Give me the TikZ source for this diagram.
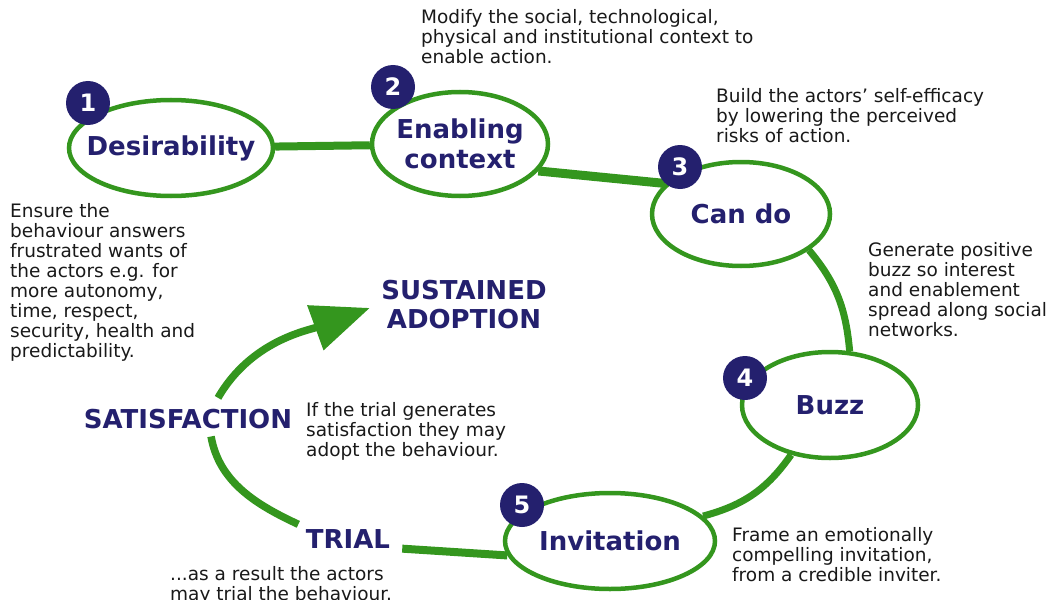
\documentclass[tikz,border=0pt]{standalone}
\usepackage{fontspec}
\setmainfont{DejaVu Sans}
\usetikzlibrary{shapes.geometric,arrows.meta}
\definecolor{leafgreen}{RGB}{52,150,30}
\definecolor{inkblue}{RGB}{36,32,110}
\definecolor{notegray}{RGB}{25,25,25}
\tikzset{%
    stage/.style={ellipse, draw=leafgreen, line width=4.5pt, fill=white,
    	inner sep=0pt},
    stagetext/.style={text=inkblue, align=center,
    	font=\fontsize{26}{30}\selectfont\bfseries},
    num/.style={circle, fill=inkblue, minimum size=44pt, inner sep=0pt,
    	text=white, font=\fontsize{24}{24}\selectfont\bfseries},
    link/.style={draw=leafgreen, line width=8pt},
    cycleline/.style={draw=leafgreen, line width=7.5pt},
    note/.style={anchor=north west, inner sep=0pt, align=left,
    	text=notegray, font=\fontsize{18.5}{20}\selectfont},
    phase/.style={text=inkblue, inner sep=2pt, align=center,
    	font=\fontsize{26}{29}\selectfont\bfseries}
}
\begin{document}
\begin{tikzpicture}[x=1pt, y=1pt]
  \useasboundingbox (0,0) rectangle (1056,-599);

  \node (desir) [stage, minimum width=204pt, minimum height=96pt,
    label={[stagetext]center:Desirability}] at (171,-148) {};
  \node (enab) [stage, minimum width=176pt, minimum height=104pt,
    label={[stagetext]center:{Enabling\\context}}] at (460,-144) {};
  \node (cando) [stage, minimum width=178pt, minimum height=104pt,
    label={[stagetext]center:Can do}] at (741,-214) {};
  \node (buzz) [stage, minimum width=176pt, minimum height=106pt,
    label={[stagetext]center:Buzz}] at (830,-405) {};
  \node (invit) [stage, minimum width=210pt, minimum height=96pt,
    label={[stagetext]center:Invitation}] at (610,-541) {};

  \node (trial) [phase, anchor=base] at (348,-548) {TRIAL};
  \node (satis) [phase, anchor=base] at (188,-428) {SATISFACTION};
  \node (adopt) [phase, anchor=north] at (464,-278) {SUSTAINED\\ADOPTION};

  \draw[link] (desir) -- (enab);
  \draw[link, line width=9pt] (enab.-19) -- (cando.158);
  \draw[link, line width=7pt] (cando.-28) to[out=-50, in=95] (buzz.70);
  \draw[link, line width=7pt] (buzz.-128) to[out=-125, in=15] (invit.15);
  \draw[link, shorten <=10pt] (trial.base east) -- (invit.188);

  \draw[cycleline, shorten <=6pt, shorten >=6pt] (trial.north west)
    to[out=155, in=-80] ([xshift=22pt]satis.south);
  \draw[cycleline, shorten <=10pt, shorten >=10pt,
    -{Triangle[length=58pt, width=46pt]}] ([xshift=25pt]satis.north)
    to[out=60, in=200] (adopt.west);

  \node (n1) [num] at (88,-103) {1};
  \node (n2) [num] at (393,-87) {2};
  \node (n3) [num] at (680,-167) {3};
  \node (n4) [num] at (745,-378) {4};
  \node (n5) [num] at (522,-505) {5};

  \node (tmodify) [note] at (421,-9) {Modify the social, technological,\\
    physical and institutional context to\\enable action.};
  \node (tbuild) [note] at (716,-88) {Build the actors’ self-efficacy\\
    by lowering the perceived\\risks of action.};
  \node (tbuzz) [note] at (868,-242) {Generate positive\\buzz so interest\\
    and enablement\\spread along social\\networks.};
  \node (tframe) [note] at (732,-527) {Frame an emotionally\\
    compelling invitation,\\from a credible inviter.};
  \node (tensure) [note] at (10,-203) {Ensure the\\behaviour answers\\
    frustrated wants of\\the actors e.g. for\\more autonomy,\\time, respect,\\
    security, health and\\predictability.};
  \node (tadopt) [note] at (306,-402) {If the trial generates\\
    satisfaction they may\\adopt the behaviour.};
  \node (ttrial) [note] at (170,-566) {...as a result the actors\\
    may trial the behaviour.};
\end{tikzpicture}
\end{document}
